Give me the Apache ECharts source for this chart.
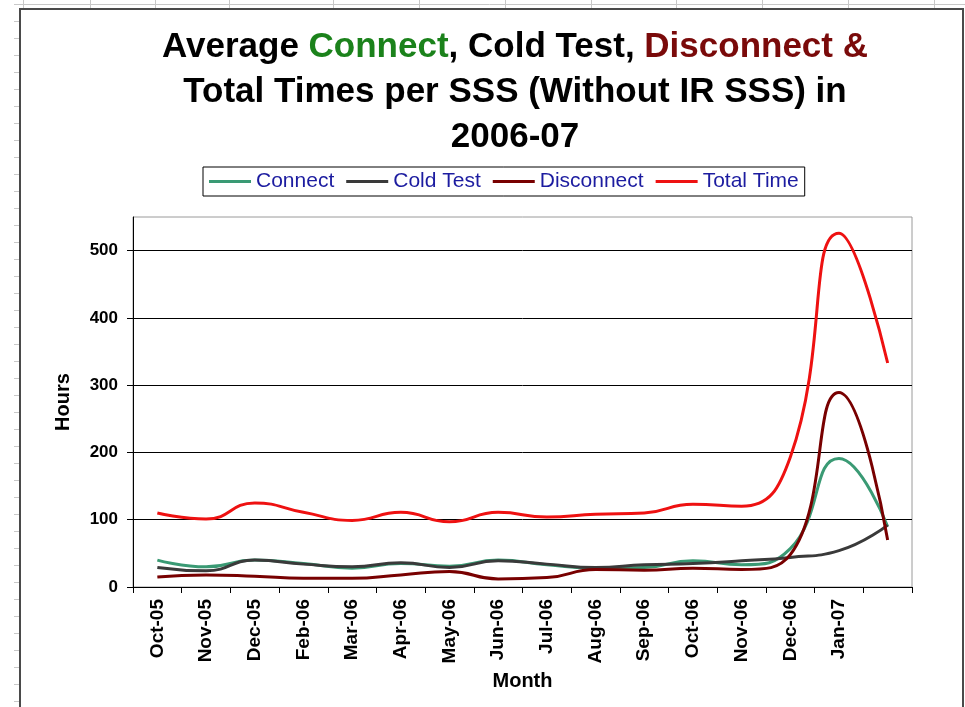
<!DOCTYPE html>
<html>
<head>
<meta charset="utf-8">
<script src="https://cdn.jsdelivr.net/npm/echarts@6/dist/echarts.min.js"></script>
<style>
  html, body { margin: 0; padding: 0; background: #fff; }
  #main { width: 965px; height: 707px; }
</style>
</head>
<body>
<div id="main"></div>
<script>
// month labels (last point has no label in the original sheet)
const months = ['Oct-05', 'Nov-05', 'Dec-05', 'Feb-06', 'Mar-06', 'Apr-06', 'May-06', 'Jun-06',
  'Jul-06', 'Aug-06', 'Sep-06', 'Oct-06', 'Nov-06', 'Dec-06', 'Jan-07', ''];

// hours
const connect    = [40, 30, 40, 35, 28, 35, 31, 40, 33, 28, 29, 39, 33, 57, 191, 90];
const coldTest   = [29, 24, 40, 34, 30, 36, 29, 39, 34, 29, 33, 35, 39, 44, 54, 92];
const disconnect = [15, 18, 16, 13, 13, 18, 23, 12, 14, 26, 25, 28, 26, 48, 289, 70];
const totalTime  = [110, 101, 125, 111, 99, 111, 97, 111, 104, 108, 110, 123, 120, 193, 526, 333];

const yTicks = [0, 100, 200, 300, 400, 500];

const FONT = 'Liberation Sans, Arial, sans-serif';

// spreadsheet grid bits around the chart object
const sheet = [];
sheet.push({ type: 'line', silent: true, shape: { x1: 14, y1: 4.5, x2: 965, y2: 4.5 }, style: { stroke: '#c8c8c8', lineWidth: 1 } });
[23, 90, 155, 229, 333, 419, 505, 591, 676, 762, 848, 934].forEach(x => {
  sheet.push({ type: 'line', silent: true, shape: { x1: x + 0.5, y1: 0, x2: x + 0.5, y2: 8 }, style: { stroke: '#c8c8c8', lineWidth: 1 } });
});
for (let y = 21; y < 707; y += 17) {
  sheet.push({ type: 'line', silent: true, shape: { x1: 14, y1: y + 0.5, x2: 20, y2: y + 0.5 }, style: { stroke: '#c8c8c8', lineWidth: 1 } });
}
sheet.push({ type: 'rect', silent: true, shape: { x: 20, y: 9, width: 943, height: 720 }, style: { fill: null, stroke: '#4a4a4a', lineWidth: 2 } });

function line(name, data, color) {
  return {
    name: name, type: 'line', data: data,
    smooth: 0.5, symbol: 'none',
    lineStyle: { color: color, width: 3 },
    itemStyle: { color: color }
  };
}

const titleFont = { fontFamily: FONT, fontWeight: 'bold', fontSize: 35, lineHeight: 45 };

const option = {
  backgroundColor: '#fff',
  animation: false,
  title: {
    left: 515,
    textAlign: 'center',
    top: 25,
    padding: 0,
    text: '{b|Average }{g|Connect}{b|, Cold Test, }{r|Disconnect &}\n{b|Total Times per SSS (Without IR SSS) in}\n{b|2006-07}',
    textStyle: Object.assign({}, titleFont, {
      color: '#000',
      rich: {
        b: Object.assign({}, titleFont, { color: '#000' }),
        g: Object.assign({}, titleFont, { color: '#1b821b' }),
        r: Object.assign({}, titleFont, { color: '#7a0a0a' })
      }
    })
  },
  legend: {
    left: 203, top: 167,
    padding: [4, 6],
    itemGap: 12,
    icon: 'rect',
    itemWidth: 42, itemHeight: 3,
    borderColor: '#000', borderWidth: 1, backgroundColor: '#fff',
    textStyle: { fontFamily: FONT, fontSize: 21, color: '#1c1ca0' },
    data: ['Connect', 'Cold Test', 'Disconnect', 'Total Time']
  },
  grid: {
    left: 133, right: 53, top: 217, bottom: 120,
    show: true, borderColor: '#9a9a9a', borderWidth: 1
  },
  xAxis: {
    type: 'category',
    data: months,
    boundaryGap: true,
    name: 'Month', nameLocation: 'middle', nameGap: 84,
    nameTextStyle: { fontFamily: FONT, fontWeight: 'bold', fontSize: 20, color: '#000' },
    axisLine: { lineStyle: { color: '#000', width: 1 } },
    axisTick: { show: true, length: 6, lineStyle: { color: '#000' } },
    axisLabel: { interval: 0, rotate: 90, margin: 12, fontFamily: FONT, fontWeight: 'bold', fontSize: 19, color: '#000' }
  },
  yAxis: {
    type: 'value',
    min: 0, max: 550, interval: 100,
    name: 'Hours', nameLocation: 'middle', nameGap: 60,
    nameTextStyle: { fontFamily: FONT, fontWeight: 'bold', fontSize: 20, color: '#000' },
    axisLine: { show: true, lineStyle: { color: '#000', width: 1 } },
    axisTick: { show: true, length: 6, customValues: yTicks, lineStyle: { color: '#000' } },
    axisLabel: {
      margin: 15, fontFamily: FONT, fontWeight: 'bold', fontSize: 17, color: '#000',
      customValues: yTicks
    },
    splitLine: { show: true, lineStyle: { color: ['#000', '#000', '#000', '#000', '#000', '#000', '#9a9a9a'], width: 1 } }
  },
  graphic: sheet,
  series: [
    line('Connect', connect, '#3a9a74'),
    line('Cold Test', coldTest, '#3a3a3a'),
    line('Disconnect', disconnect, '#780000'),
    line('Total Time', totalTime, '#ee1111')
  ]
};

const myChart = echarts.init(document.getElementById('main'), null, { renderer: 'canvas' });
myChart.setOption(option);
</script>
</body>
</html>
